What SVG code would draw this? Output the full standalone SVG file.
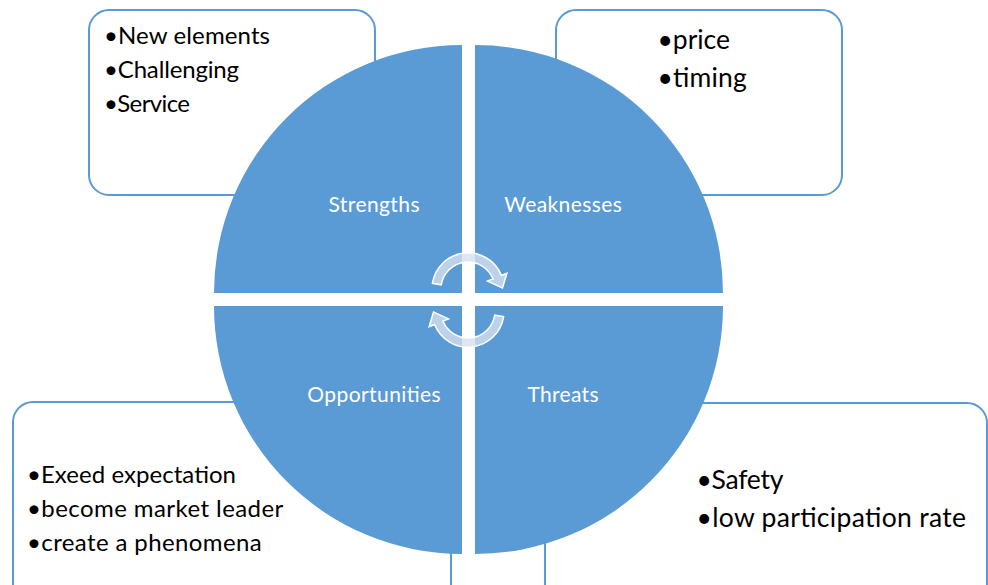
<svg xmlns="http://www.w3.org/2000/svg" width="988" height="585" viewBox="0 0 988 585">
  <style>
    .box { fill: #ffffff; stroke: #5b9bd5; stroke-width: 2; }
    .pie { fill: #5b9bd5; stroke: none; }
    .lab { font-family: Lato, "Liberation Sans", sans-serif; font-size: 21px; fill: #ffffff; text-anchor: middle; }
    .lst { font-family: Lato, "Liberation Sans", sans-serif; font-size: 24px; fill: #000000; }
    .lstb { font-family: Lato, "Liberation Sans", sans-serif; font-size: 26.5px; fill: #000000; }
    .arr { fill: #d5e0f0; fill-opacity: 0.8; stroke: #ffffff; stroke-width: 1.5; stroke-linejoin: miter; }
  </style>
  <defs>
    <path id="carrow" d="M432.4,283.4 A36,36 0 0 1 501.4,275.5 L506.9,273.3 L502.5,288 L487.5,281.1 L493.0,278.9 A27,27 0 0 0 441.3,284.8 Z"/>
  </defs>
  <rect width="988" height="585" fill="#ffffff"/>

  <g id="box-strengths">
    <rect class="box" x="89" y="10" width="286" height="185" rx="20" ry="20"/>
    <text class="lst" x="104" y="43.5" textLength="166">•New elements</text>
    <text class="lst" x="104" y="78" textLength="135">•Challenging</text>
    <text class="lst" x="104" y="111.5" textLength="86">•Service</text>
  </g>

  <g id="box-weaknesses">
    <rect class="box" x="556" y="10" width="286" height="185" rx="20" ry="20"/>
    <text class="lstb" x="657.5" y="49.3" textLength="72.5">•price</text>
    <text class="lstb" x="657.5" y="87.3" textLength="89.2">•timing</text>
  </g>

  <g id="box-opportunities">
    <rect class="box" x="13" y="402" width="438" height="220" rx="20" ry="20"/>
    <text class="lst" x="27" y="482.7" textLength="209">•Exeed expectation</text>
    <text class="lst" x="27" y="516.7" textLength="256.3">•become market leader</text>
    <text class="lst" x="27" y="551" textLength="234.7">•create a phenomena</text>
  </g>

  <g id="box-threats">
    <rect class="box" x="545" y="403" width="442" height="220" rx="20" ry="20"/>
    <text class="lstb" x="696.5" y="489.3" textLength="86.8">•Safety</text>
    <text class="lstb" x="696.5" y="526.7" textLength="269.5">•low participation rate</text>
  </g>

  <g id="strengths">
    <path class="pie" d="M462,293 L214,293 A248,248 0 0 1 462,45 Z"/>
    <text class="lab" x="374" y="212.3" textLength="91">Strengths</text>
  </g>
  <g id="weaknesses">
    <path class="pie" d="M475,293 L475,45 A248,248 0 0 1 723,293 Z"/>
    <text class="lab" x="563" y="212.3" textLength="117.7">Weaknesses</text>
  </g>
  <g id="opportunities">
    <path class="pie" d="M462,306 L462,554 A248,248 0 0 1 214,306 Z"/>
    <text class="lab" x="374" y="401.5" textLength="133.4">Opportunities</text>
  </g>
  <g id="threats">
    <path class="pie" d="M475,306 L723,306 A248,248 0 0 1 475,554 Z"/>
    <text class="lab" x="563" y="401.5" textLength="71">Threats</text>
  </g>

  <g id="connectors">
    <use href="#carrow" class="arr"/>
    <use href="#carrow" class="arr" transform="rotate(180 468 300)"/>
  </g>
</svg>
